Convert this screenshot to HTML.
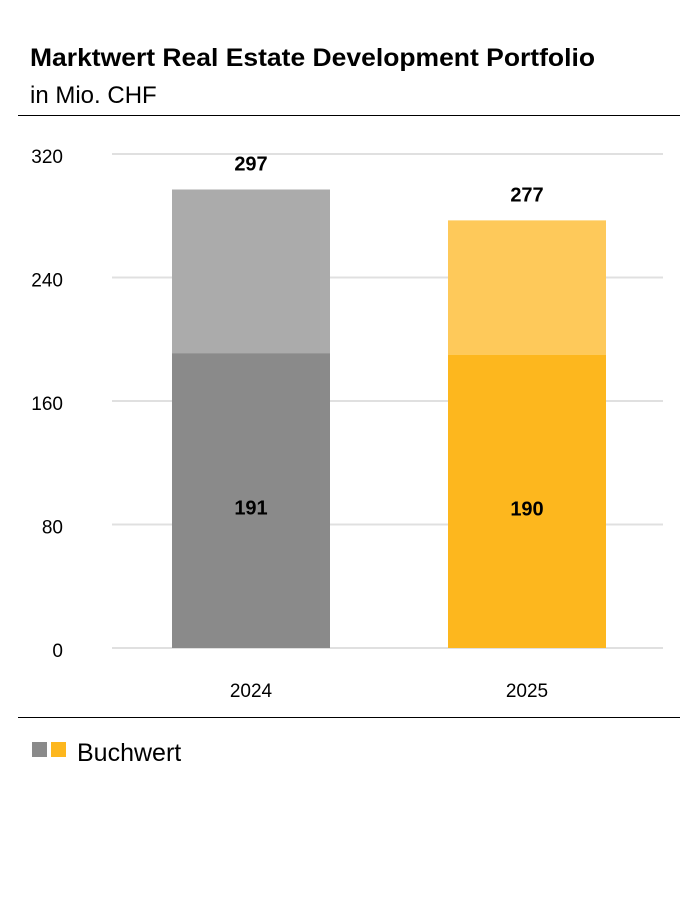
<!DOCTYPE html>
<html><head><meta charset="utf-8"><style>
body{margin:0;background:#fff;font-family:"Liberation Sans",sans-serif;}
#wrap{position:relative;width:700px;height:900px;}
</style></head><body>
<div id="wrap">
<svg width="700" height="900" id="svg">
<text x="30" y="66" font-size="25" font-weight="bold" fill="#000" textLength="565" lengthAdjust="spacingAndGlyphs">Marktwert Real Estate Development Portfolio</text>
<text x="30" y="103" font-size="24" fill="#000">in Mio. CHF</text>
<line x1="18" x2="680" y1="115.5" y2="115.5" stroke="#000" stroke-width="1"/>
<line x1="18" x2="680" y1="717.5" y2="717.5" stroke="#000" stroke-width="1"/>
<g id="grid"></g><g id="bars"></g>
<rect x="32" y="742" width="15" height="15" fill="#8a8a8a"/>
<rect x="51" y="742" width="15" height="15" fill="#fdb71e"/>
<text x="77" y="761" font-size="25" fill="#000">Buchwert</text>
</svg></div>
<script>
const categories=["2024","2025"];
const buchwert=[191,190];
const marktwert=[297,277];
const ticks=[0,80,160,240,320];
const colorsDark=["#8a8a8a","#fdb71e"];
const colorsLight=["#ababab","#fec95a"];
const NS="http://www.w3.org/2000/svg";
const y0=648,yTop=154,maxV=320;
const y=v=>y0-(v/maxV)*(y0-yTop);
const xs=i=>172+i*276, bw=158;
function mk(t,a,p){const e=document.createElementNS(NS,t);for(const k in a)e.setAttribute(k,a[k]);p.appendChild(e);return e;}
const g=document.getElementById('grid'),b=document.getElementById('bars');
ticks.forEach(t=>{
 const l=mk('line',{x1:112,x2:663,y1:y(t),y2:y(t),stroke:'#e0e0e0','stroke-width':2},g);
 
 
 const tx=mk('text',{x:63,y:y(t)+9,'font-size':19,'text-anchor':'end',fill:'#000'},g);tx.textContent=t;
 
 
});
categories.forEach((c,i)=>{
 const x=xs(i);
 const r1=mk('rect',{x:x,y:y(marktwert[i]),width:bw,height:y(buchwert[i])-y(marktwert[i]),fill:colorsLight[i]},b);
 
 
 const r2=mk('rect',{x:x,y:y(buchwert[i]),width:bw,height:y0-y(buchwert[i]),fill:colorsDark[i]},b);
 
 
 const t1=mk('text',{x:x+bw/2,y:y(marktwert[i])-19,'font-size':20,'font-weight':'bold','text-anchor':'middle'},b);t1.textContent=marktwert[i];
 
 
 const t2=mk('text',{x:x+bw/2,y:(y(buchwert[i])+y0)/2+14,'font-size':20,'font-weight':'bold','text-anchor':'middle'},b);t2.textContent=buchwert[i];
 
 
 const t3=mk('text',{x:x+bw/2,y:697,'font-size':19,'text-anchor':'middle'},b);t3.textContent=c;
 
 
});
</script></body></html>
